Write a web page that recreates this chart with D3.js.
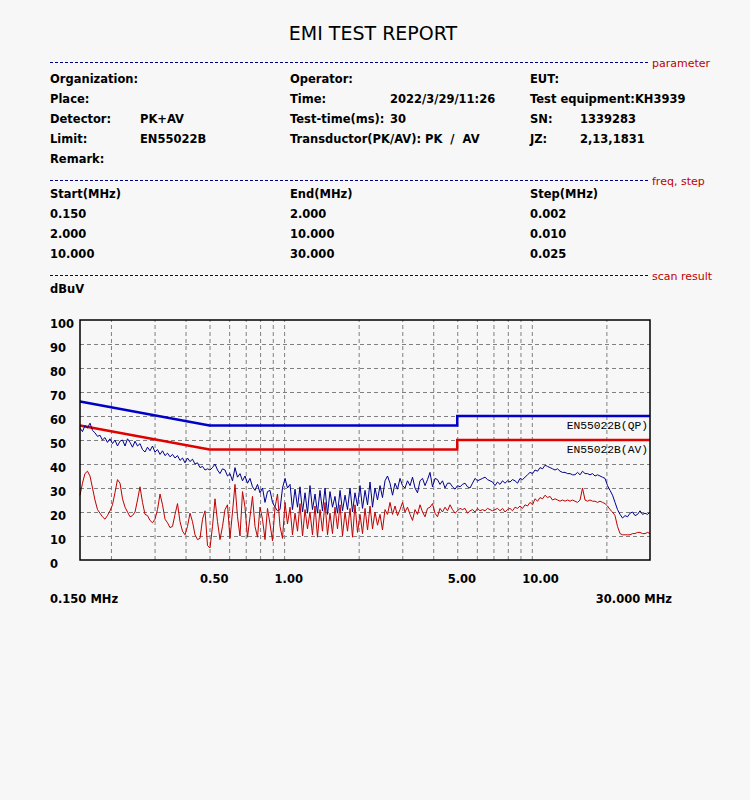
<!DOCTYPE html>
<html><head><meta charset="utf-8">
<script src="https://cdn.jsdelivr.net/npm/d3@7"></script>
<style>body{margin:0;background:#f7f7f7;}svg{display:block;}</style>
</head><body>
<script>
// ---- data ----
const freqMHz = [
0.1500,0.1535,0.1571,0.1608, 0.1646,0.1685,0.1724,0.1765, 0.1806,0.1848,0.1892,0.1936,
0.1982,0.2029,0.2076,0.2125, 0.2176,0.2227,0.2280,0.2333, 0.2388,0.2444,0.2502,0.2560,
0.2620,0.2682,0.2745,0.2809, 0.2875,0.2943,0.3012,0.3083, 0.3156,0.3230,0.3306,0.3384,
0.3463,0.3544,0.3628,0.3713, 0.3800,0.3889,0.3981,0.4074, 0.4170,0.4268,0.4369,0.4471,
0.4577,0.4684,0.4795,0.4907, 0.5022,0.5140,0.5261,0.5385, 0.5511,0.5641,0.5773,0.5909,
0.6048,0.6190,0.6336,0.6485, 0.6638,0.6794,0.6954,0.7117, 0.7284,0.7455,0.7631,0.7810,
0.7994,0.8182,0.8374,0.8571, 0.8773,0.8979,0.9191,0.9406, 0.9627,0.9853,1.009,1.032,
1.057,1.081,1.107,1.133, 1.159,1.187,1.215,1.243, 1.272,1.302,1.333,1.364,
1.396,1.429,1.463,1.497, 1.532,1.568,1.605,1.643, 1.682,1.721,1.762,1.803,
1.846,1.889,1.933,1.979, 2.025,2.073,2.122,2.172, 2.223,2.275,2.328,2.383,
2.439,2.496,2.555,2.615, 2.677,2.740,2.804,2.870, 2.937,3.006,3.077,3.149,
3.224,3.299,3.377,3.456, 3.538,3.621,3.706,3.793, 3.882,3.973,4.067,4.162,
4.260,4.360,4.463,4.568, 4.676,4.785,4.898,5.013, 5.131,5.251,5.375,5.501,
5.631,5.763,5.899,6.037, 6.179,6.324,6.473,6.625, 6.781,6.941,7.104,7.271,
7.442,7.617,7.796,7.979, 8.167,8.359,8.556,8.757, 8.963,9.173,9.389,9.610,
9.836,10.07,10.30,10.55, 10.79,11.05,11.31,11.57, 11.85,12.12,12.41,12.70,
13.00,13.30,13.62,13.94, 14.27,14.60,14.94,15.30, 15.66,16.02,16.40,16.79,
17.18,17.58,18.00,18.42, 18.85,19.30,19.75,20.21, 20.69,21.18,21.67,22.18,
22.71,23.24,23.79,24.34, 24.92,25.50,26.10,26.72, 27.34,27.99,28.64,29.32,
30.00];
const peakDbuV = [
55,53.5,56,55, 57,54,53,51.5, 52,50,51,49, 50.5,48.5,50,47.5, 49.5,50,47.5,50.5,
49,47,49.5,47.5, 48.5,46,45,47, 45.5,47.5,45,46, 44,45.5,43.5,44.5, 43,44,42.5,43.5,
41.5,42.5,40.5,42.5, 41,42,40,40.5, 38.5,39,37.5,38, 37.5,38.5,40,37.5, 36,38,37.5,35,
36,33,38.5,34.5, 36,33,35,32, 34,30.5,29,31.5, 28,30,24,28.5, 29,24,22,20.5,
21,30,34,30, 31.5,21,29.5,22, 30.5,20,28,19.5, 31,21,27.5,19.5, 29,20.5,30,19,
28.5,22,26.5,19.5, 29,20.5,27,21, 30,20,28,22.5, 31,21.5,29,23, 32.5,22,30,25,
31,26,33,35, 32,27,32,29.5, 34,31,30,33, 31,34.5,30,28, 33,34,31,33.5,
36.5,30.5,34,33.5, 31.5,33,30,32, 32,30.5,29.5,31, 30.5,31.5,32,30.5, 30,32,34,33,
33.5,34,34.5,33.5, 33,32.5,31,32.5, 31.5,33,32,33, 32.5,33.5,33,32, 34,33.5,34.5,35.5,
36.5,36,37.5,37, 38.5,38,39.5,39, 38.5,38,37.5,38, 37,36.5,36.5,36, 36,35.5,35.5,36.5,
35.5,37,36,36, 35.5,36,35,35.5, 35,34.5,34,31, 29,27,24,21, 19,17.5,18.5,18,
19.5,20,18.5,19, 20.5,19,19.5,19, 20];
const avgDbuV = [
27,32,36,37, 35,30,25,21, 19.5,18,17,18.5, 20.5,23,28,33.5, 32,25.5,22,20,
18,18.5,20,25, 30.5,24,19,18.5, 16.5,15.5,17,21, 27.5,23,17,15.5, 13.5,14,19,23.5,
16,12,10.5,14, 19.5,16,10.5,8.5, 9,17,20.5,6, 5,14,25.5,16, 8.5,14,21,23,
9,20,31.5,18, 10,28.5,22,9.5, 18,26.5,14,9.5, 22,17,8.5,21.5, 15,8,22,27.5,
14,9,24,15, 22,10.5,19.5,12, 23.5,10,21,13, 20,10.5,22.5,9.5, 21,12,24,10.5,
19.5,11,22,13, 23,10,20,12, 21.5,9.5,23,11.5, 19,11,21.5,12.5, 22.5,13,20,14.5,
19,12.5,21,19, 24,19,22.5,18.5, 21,24,20,22, 19,16.5,21,19, 23,20,18,21.5,
22,23.5,19.5,18, 21.5,20,22,20.5, 23,21,19.5,20.5, 21.5,21,21.5,19.5, 20.5,21,20,21.5,
20.5,21,20.5,21.5, 21,20.5,21,21.5, 20.5,21.5,20,21, 21.5,20.5,22,21.5, 22.5,21.5,23,22.5,
24,23,25.5,24.5, 26,25.5,27,26, 26.5,25,25.5,25, 24.5,25,24.5,25, 24.5,25,24.5,24,
25,30,25,24.5, 25,24.5,24.5,24, 24.5,24,23.5,22.5, 21,20,18.5,14, 11,10.5,10.5,10.5,
10.5,11,11,11.5, 11.5,11,11,11.5, 11];
const limitFreq = [0.15, 0.5, 5, 5, 30];
const qpLimit = [66, 56, 56, 60, 60];
const avLimit = [56, 46, 46, 50, 50];
const gridFreqs = [0.2,0.3,0.4,0.5,0.6,0.7,0.8,0.9,1,2,3,4,5,6,7,8,9,10,20];
const xTickVals = [0.5, 1, 5, 10];
const yTickVals = [0,10,20,30,40,50,60,70,80,90,100];
const yGridVals = [10,20,30,40,50,60,70,80,90];
const paramRows = [
  ["Organization:", "", "Operator:", "", "EUT:", ""],
  ["Place:", "", "Time:", "2022/3/29/11:26", "Test equipment:KH3939", ""],
  ["Detector:", "PK+AV", "Test-time(ms):", "30", "SN:", "1339283"],
  ["Limit:", "EN55022B", "Transductor(PK/AV): PK  /  AV", "", "JZ:", "2,13,1831"],
  ["Remark:", "", "", "", "", ""]
];
const freqRows = [
  ["Start(MHz)", "End(MHz)", "Step(MHz)"],
  ["0.150", "2.000", "0.002"],
  ["2.000", "10.000", "0.010"],
  ["10.000", "30.000", "0.025"]
];

// ---- drawing ----
const W = 750, H = 800;
const svg = d3.select("body").append("svg").attr("width", W).attr("height", H);
svg.append("rect").attr("width", W).attr("height", H).attr("fill", "#f7f7f7");
const F = "'DejaVu Sans', sans-serif";
const txt = (x, y, s, opt = {}) => svg.append("text").attr("x", x).attr("y", y)
  .attr("font-family", opt.family || F).attr("font-size", opt.size || 11.5)
  .attr("font-weight", opt.weight || "bold").attr("fill", opt.fill || "#000")
  .attr("text-anchor", opt.anchor || "start").attr("xml:space", "preserve")
  .style("white-space", "pre").text(s);

txt(373, 40, "EMI TEST REPORT", {size: 19, weight: "normal", anchor: "middle"});

function sep(y, label) {
  svg.append("line").attr("x1", 50).attr("x2", 648).attr("y1", y).attr("y2", y)
    .attr("stroke", "#000080").attr("stroke-width", 1).attr("stroke-dasharray", "3,2");
  txt(652, y + 4, label, {size: 11, weight: "normal", fill: "#c00000"});
}
sep(62.5, "parameter");
sep(180.5, "freq, step");
sep(275.5, "scan result");

const pcols = [50, 140, 290, 390, 530, 580];
paramRows.forEach((r, i) => r.forEach((s, j) => { if (s) txt(pcols[j], 83 + i * 20, s); }));
const fcols = [50, 290, 530];
freqRows.forEach((r, i) => r.forEach((s, j) => txt(fcols[j], 198 + i * 20, s)));
txt(50, 293, "dBuV");

// scales
const x = d3.scaleLog().domain([0.15, 30]).range([80, 650]);
const y = d3.scaleLinear().domain([0, 100]).range([560, 320]);

// grid
const gx = svg.append("g").attr("transform", "translate(0,560)")
  .call(d3.axisBottom(x).tickValues(gridFreqs).tickSize(-240).tickFormat(""));
gx.select(".domain").remove();
gx.selectAll("line").attr("stroke", "#808080").attr("stroke-dasharray", "4,3");
const gy = svg.append("g").attr("transform", "translate(80,0)")
  .call(d3.axisLeft(y).tickValues(yGridVals).tickSize(-570).tickFormat(""));
gy.select(".domain").remove();
gy.selectAll("line").attr("stroke", "#808080").attr("stroke-dasharray", "4,3");

// y labels
const ya = svg.append("g").attr("transform", "translate(50,0)")
  .call(d3.axisLeft(y).tickValues(yTickVals).tickSize(0).tickFormat(d3.format("d")));
ya.select(".domain").remove();
ya.selectAll("text").attr("x", 0).attr("dy", 7.5).attr("text-anchor", "start")
  .attr("font-family", F).attr("font-size", 11.5).attr("font-weight", "bold").attr("fill", "#000");

// x labels
const xa = svg.append("g").attr("transform", "translate(0,583)")
  .call(d3.axisBottom(x).tickValues(xTickVals).tickSize(0).tickFormat(d3.format(".2f")));
xa.select(".domain").remove();
xa.selectAll("text").attr("x", -10).attr("y", 0).attr("dy", 0).attr("text-anchor", "start")
  .attr("font-family", F).attr("font-size", 11.5).attr("font-weight", "bold").attr("fill", "#000");
txt(50, 603, "0.150 MHz");
txt(672, 603, "30.000 MHz", {anchor: "end"});

// limits
const lim = d3.line().x(d => x(d[0])).y(d => y(d[1]));
svg.append("path").attr("d", lim(limitFreq.map((f, i) => [f, qpLimit[i]])))
  .attr("fill", "none").attr("stroke", "#0000c8").attr("stroke-width", 2.5);
svg.append("path").attr("d", lim(limitFreq.map((f, i) => [f, avLimit[i]])))
  .attr("fill", "none").attr("stroke", "#e00000").attr("stroke-width", 2.5);

// traces
svg.append("path").attr("d", lim(freqMHz.map((f, i) => [f, peakDbuV[i]])))
  .attr("fill", "none").attr("stroke", "#00008c").attr("stroke-width", 1);
svg.append("path").attr("d", lim(freqMHz.map((f, i) => [f, avgDbuV[i]])))
  .attr("fill", "none").attr("stroke", "#c00000").attr("stroke-width", 1);

// limit labels
const LF = "'Liberation Mono', monospace";
txt(648, 429, "EN55022B(QP)", {family: LF, size: 11.3, weight: "normal", anchor: "end"});
txt(648, 453, "EN55022B(AV)", {family: LF, size: 11.3, weight: "normal", anchor: "end"});

// frame
svg.append("rect").attr("x", 80).attr("y", 320).attr("width", 570).attr("height", 240)
  .attr("fill", "none").attr("stroke", "#000").attr("stroke-width", 1.5);
</script>
</body></html>
